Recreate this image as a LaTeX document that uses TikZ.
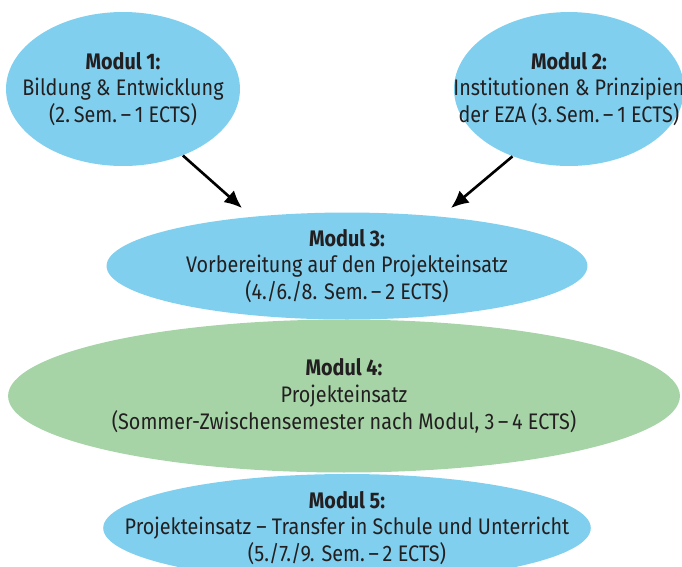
\documentclass[tikz,border=0pt]{standalone}
\usepackage{fontspec}
\setmainfont{Fira Sans}[FakeStretch=0.88]
\usetikzlibrary{shapes.geometric,arrows.meta}
\definecolor{modblue}{RGB}{128,207,238}
\definecolor{modgreen}{RGB}{166,212,167}
\definecolor{textgray}{RGB}{35,31,32}
\newcommand{\modfont}{\fontsize{12.8pt}{15.3pt}\selectfont}

\begin{document}
\begin{tikzpicture}[x=0.02cm,y=-0.02cm,
  modul/.style={ellipse,inner xsep=-1cm,inner ysep=-0.15cm,align=center,text=textgray,font=\modfont},
  blau/.style={modul,fill=modblue},
  gruen/.style={modul,fill=modgreen},
  pfeil/.style={-{Latex[length=10pt,width=9pt]},line width=1.5pt}]
\useasboundingbox (0,0) rectangle (682,566);
\node[blau,minimum width=4.68cm,minimum height=3.08cm](m1) at (123,89)
  {\textbf{Modul 1:}\\Bildung \& Entwicklung\\(2.\,Sem.\,–\,1 ECTS)};
\node[blau,minimum width=4.6cm,minimum height=3.08cm](m2) at (569,89)
  {\textbf{Modul 2:}\\Institutionen \& Prinzipien\\der EZA (3.\,Sem.\,–\,1 ECTS)};
\node[blau,minimum width=9.62cm,minimum height=2.14cm](m3) at (347,266)
  {\textbf{Modul 3:}\\Vorbereitung auf den Projekteinsatz\\(4./6./8. Sem.\,–\,2 ECTS)};
\node[gruen,minimum width=13.44cm,minimum height=3.06cm](m4) at (344,396)
  {\textbf{Modul 4:}\\Projekteinsatz\\(Sommer-Zwischensemester nach Modul, 3\,–\,4 ECTS)};
\node[blau,minimum width=9.62cm,minimum height=2.16cm](m5) at (347,528)
  {\textbf{Modul 5:}\\Projekteinsatz – Transfer in Schule und Unterricht\\(5./7./9. Sem.\,–\,2 ECTS)};
\coordinate (t1) at (242,208);
\coordinate (t2) at (451,208);
\draw[pfeil] (m1.-48) -- (t1);
\draw[pfeil] (m2.-130) -- (t2);
\end{tikzpicture}
\end{document}
